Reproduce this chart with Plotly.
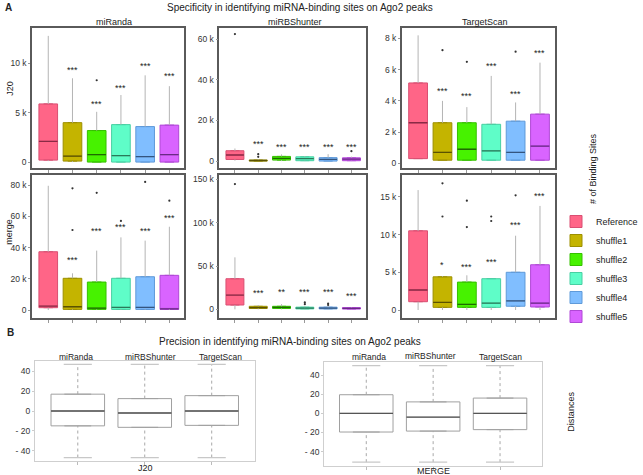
import plotly.graph_objects as go

# ---------------- data ----------------
groups = ["Reference", "shuffle1", "shuffle2", "shuffle3", "shuffle4", "shuffle5"]
tools = ["miRanda", "miRBShunter", "TargetScan"]

# (lower whisker, q1, median, q3, upper whisker) per group, in number of sites
j20_miranda = [[100, 200, 2100, 5900, 12800], [0, 100, 600, 4000, 8500], [0, 0, 750, 3200, 5100],
               [0, 0, 650, 3800, 6800], [0, 0, 550, 3600, 8800], [0, 0, 750, 3750, 7700]]
j20_mirbshunter = [[200, 800, 3000, 5100, 6200], [0, 0, 300, 500, 800], [0, 500, 1300, 2300, 3300],
                   [0, 200, 1200, 2100, 2500], [0, 0, 800, 1700, 3400], [0, 200, 1000, 1600, 2200]]
j20_targetscan = [[300, 300, 2600, 5150, 8200], [200, 200, 700, 2600, 4000], [200, 200, 900, 2600, 3600],
                  [200, 200, 800, 2500, 5600], [200, 200, 700, 2700, 3900], [200, 200, 1100, 3150, 6450]]
merge_miranda = [[0, 1500, 2500, 37300, 79500], [0, 400, 2100, 20300, 23500], [0, 400, 1200, 17900, 38000],
                 [0, 400, 1700, 20300, 46500], [0, 400, 1700, 21300, 44400], [0, 400, 700, 22200, 53300]]
merge_mirbshunter = [[0, 5000, 16500, 35300, 60000], [0, 1000, 2000, 3500, 5000], [0, 1000, 2200, 3500, 6000],
                     [0, 500, 1500, 2500, 3500], [0, 500, 1500, 2500, 3500], [0, 300, 1000, 2000, 2500]]
merge_targetscan = [[0, 1100, 2650, 10500, 15900], [0, 350, 1000, 4400, 4500], [0, 350, 750, 3700, 4600],
                    [0, 350, 900, 4150, 4150], [0, 500, 1200, 5000, 9850], [0, 400, 900, 6000, 13800]]

j20_miranda_out = [[], [], [8300], [], [], []]
j20_mirbshunter_out = [[62500], [2100, 3400], [], [], [], [4900]]
j20_targetscan_out = [[], [7250], [6500], [], [7150], []]
merge_miranda_out = [[], [77900, 51200], [75000], [57000], [82000], [70000]]
merge_mirbshunter_out = [[144500], [], [], [6000, 8000], [5000, 6500], []]
merge_targetscan_out = [[], [16800, 12400], [14500, 11000], [12400, 11800], [15200], []]

j20_miranda_sig = ["", "***", "***", "***", "***", "***"]
j20_mirbshunter_sig = ["", "***", "***", "***", "***", "***"]
j20_targetscan_sig = ["", "***", "***", "***", "***", "***"]
merge_miranda_sig = ["", "***", "***", "***", "***", "***"]
merge_mirbshunter_sig = ["", "***", "**", "***", "***", "***"]
merge_targetscan_sig = ["", "*", "***", "***", "***", "***"]

j20_miranda_sig_y = [0, 9300, 5900, 7500, 9700, 8700]
j20_mirbshunter_sig_y = [0, 8200, 7000, 7000, 7000, 7000]
j20_targetscan_sig_y = [0, 4650, 4300, 6250, 4450, 7050]
merge_miranda_sig_y = [0, 32000, 50600, 53300, 50600, 59000]
merge_mirbshunter_sig_y = [0, 19000, 20000, 20000, 20000, 15300]
merge_targetscan_sig_y = [0, 6000, 5700, 6300, 11300, 15100]

j20_ticks = [[0, 5000, 10000], [0, 20000, 40000, 60000], [0, 2000, 4000, 6000, 8000]]
j20_ticktext = [["0", "5 k", "10 k"], ["0", "20 k", "40 k", "60 k"], ["0", "2 k", "4 k", "6 k", "8 k"]]
merge_ticks = [[0, 20000, 40000, 60000, 80000], [0, 50000, 100000, 150000], [0, 5000, 10000, 15000]]
merge_ticktext = [["0", "20 k", "40 k", "60 k", "80 k"], ["0", "50 k", "100 k", "150 k"], ["0", "5 k", "10 k", "15 k"]]

# Panel B distances: (lower whisker, q1, median, q3, upper whisker)
dist_j20 = [[-47, -15, 0, 17, 47], [-47, -16.5, -2, 12.5, 47], [-47, -14.5, 0, 15.5, 47]]
dist_merge = [[-51, -19.5, 0, 19.5, 50], [-51, -18.5, -4, 12, 50], [-51, -17, 0, 16, 50]]
dist_ticks = [40, 20, 0, -20, -40]
dist_ticktext = ["40", "20", "0", "- 20", "- 40"]

# ---------------- style ----------------
fills = ["#FF6587", "#C4B400", "#47F200", "#5FFDC8", "#80BEFF", "#D964FF"]
edges = ["#D94F72", "#9C8F00", "#36C000", "#48CFA2", "#5F9AD9", "#B048D6"]
medians = ["#8A2A45", "#5A5200", "#1E6A00", "#2A7A5A", "#34557F", "#6A2A85"]
FONT = "Liberation Sans, Arial, sans-serif"
W, H = 643, 475


def px_x(p):
    return p / W


def px_y(p):
    return 1 - p / H


fig = go.Figure()

# Panel A axes domains (pixel based)
col_x = [(33, 190), (226, 377), (414, 572)]
row_y = [(28, 168), (175, 318)]
ranges = [[-600, 13600], [-3400, 65500], [-300, 8670], [-5100, 86400], [-10000, 155000], [-1060, 17900]]

panels = [
    (j20_miranda, j20_miranda_out, j20_miranda_sig, j20_miranda_sig_y),
    (j20_mirbshunter, j20_mirbshunter_out, j20_mirbshunter_sig, j20_mirbshunter_sig_y),
    (j20_targetscan, j20_targetscan_out, j20_targetscan_sig, j20_targetscan_sig_y),
    (merge_miranda, merge_miranda_out, merge_miranda_sig, merge_miranda_sig_y),
    (merge_mirbshunter, merge_mirbshunter_out, merge_mirbshunter_sig, merge_mirbshunter_sig_y),
    (merge_targetscan, merge_targetscan_out, merge_targetscan_sig, merge_targetscan_sig_y),
]
tick_sets = [(j20_ticks[i], j20_ticktext[i]) for i in range(3)] + [(merge_ticks[i], merge_ticktext[i]) for i in range(3)]

annotations = []
layout_axes = {}
for k, (stats, outs, sig, sig_y) in enumerate(panels):
    r, c = divmod(k, 3)
    n = k + 1
    xa = "x" if n == 1 else f"x{n}"
    ya = "y" if n == 1 else f"y{n}"
    # whiskers
    wx, wy = [], []
    for g, s in zip(groups, stats):
        wx += [g, g, None, g, g, None]
        wy += [s[3], s[4], None, s[0], s[1], None]
    fig.add_trace(go.Scatter(x=wx, y=wy, mode="lines", line=dict(color="#b4b4b4", width=1),
                             xaxis=xa, yaxis=ya, showlegend=False, hoverinfo="skip"))
    for i, (g, s) in enumerate(zip(groups, stats)):
        fig.add_trace(go.Box(x=[g], q1=[s[1]], median=[s[2]], q3=[s[3]], lowerfence=[s[1]], upperfence=[s[3]],
                             name=g, legendgroup=g, showlegend=(k == 0), width=0.77,
                             fillcolor=fills[i], line=dict(color=edges[i], width=1),
                             xaxis=xa, yaxis=ya, boxpoints=False))
        # median overlay
        fig.add_trace(go.Box(x=[g], q1=[s[2]], median=[s[2]], q3=[s[2]], lowerfence=[s[2]], upperfence=[s[2]],
                             width=0.77, fillcolor="rgba(0,0,0,0)", line=dict(color=medians[i], width=1.3),
                             xaxis=xa, yaxis=ya, showlegend=False, boxpoints=False, hoverinfo="skip"))
        if outs[i]:
            fig.add_trace(go.Scatter(x=[g] * len(outs[i]), y=outs[i], mode="markers",
                                     marker=dict(color="#333", size=2.2), xaxis=xa, yaxis=ya,
                                     showlegend=False, hoverinfo="skip"))
        if sig[i]:
            annotations.append(dict(x=i, y=sig_y[i], xref=xa, yref=ya, text=sig[i], showarrow=False,
                                    font=dict(size=9, color="#222", family=FONT), yanchor="middle"))
    x0, x1 = col_x[c]
    y0, y1 = row_y[r]
    tv, tt = tick_sets[k]
    key_x = "xaxis" if n == 1 else f"xaxis{n}"
    key_y = "yaxis" if n == 1 else f"yaxis{n}"
    layout_axes[key_x] = dict(domain=[px_x(x0), px_x(x1)], anchor=ya, type="category",
                              categoryorder="array", categoryarray=groups, range=[-0.67, 5.62],
                              showticklabels=False, ticks="outside", ticklen=3, tickcolor="#999",
                              showline=True, linecolor="#5a5a5a", linewidth=1.5, mirror=True,
                              showgrid=False, zeroline=False, fixedrange=True)
    layout_axes[key_y] = dict(domain=[px_y(y1), px_y(y0)], anchor=xa, range=ranges[k],
                              tickvals=tv, ticktext=tt, ticks="outside", ticklen=2, tickcolor="#999",
                              tickfont=dict(size=8.5, color="#333", family=FONT),
                              showline=True, linecolor="#5a5a5a", linewidth=1.5, mirror=True,
                              showgrid=False, zeroline=False, fixedrange=True)

# ---------------- Panel B ----------------
b_specs = [
    (dist_j20, "x7", "y7", (36, 263), (361, 461), [-50.5, 50.5], [-0.64, 2.65]),
    (dist_merge, "x8", "y8", (334, 558), (362, 466), [-55, 53.7], [-0.63, 2.62]),
]
for stats, xa, ya, (x0, x1), (y0, y1), yr, xr in b_specs:
    wx, wy = [], []
    cx, cy = [], []
    for j, s in enumerate(stats):
        wx += [j, j, None, j, j, None]
        wy += [s[3], s[4], None, s[0], s[1], None]
        cx += [j - 0.21, j + 0.21, None, j - 0.21, j + 0.21, None]
        cy += [s[4], s[4], None, s[0], s[0], None]
    fig.add_trace(go.Scatter(x=wx, y=wy, mode="lines", line=dict(color="#a8a8a8", width=1, dash="dot"),
                             xaxis=xa, yaxis=ya, showlegend=False, hoverinfo="skip"))
    fig.add_trace(go.Scatter(x=cx, y=cy, mode="lines", line=dict(color="#c8c8c8", width=1.2),
                             xaxis=xa, yaxis=ya, showlegend=False, hoverinfo="skip"))
    for j, s in enumerate(stats):
        fig.add_trace(go.Box(x=[j], q1=[s[1]], median=[s[2]], q3=[s[3]], lowerfence=[s[1]], upperfence=[s[3]],
                             width=0.8, fillcolor="white", line=dict(color="#a0a0a0", width=1),
                             xaxis=xa, yaxis=ya, showlegend=False, boxpoints=False))
        fig.add_trace(go.Box(x=[j], q1=[s[2]], median=[s[2]], q3=[s[2]], lowerfence=[s[2]], upperfence=[s[2]],
                             width=0.8, fillcolor="rgba(0,0,0,0)", line=dict(color="#555", width=1.3),
                             xaxis=xa, yaxis=ya, showlegend=False, boxpoints=False, hoverinfo="skip"))
    n = int(xa[1:])
    layout_axes[f"xaxis{n}"] = dict(domain=[px_x(x0), px_x(x1)], anchor=ya, range=xr,
                                    tickvals=[0, 1, 2], showticklabels=False, ticks="outside", ticklen=3,
                                    tickcolor="#bbb", showline=True, linecolor="#cfcfcf", linewidth=1,
                                    mirror=True, showgrid=False, zeroline=False, fixedrange=True)
    layout_axes[f"yaxis{n}"] = dict(domain=[px_y(y1), px_y(y0)], anchor=xa, range=yr,
                                    tickvals=dist_ticks, ticktext=dist_ticktext, ticks="outside", ticklen=2,
                                    tickcolor="#ccc", tickfont=dict(size=8.5, color="#333", family=FONT),
                                    showline=True, linecolor="#cfcfcf", linewidth=1, mirror=True,
                                    showgrid=False, zeroline=False, fixedrange=True)


def txt(x, y, text, size=9, angle=0, bold=False, xanchor="center", yanchor="middle", color="#222"):
    annotations.append(dict(x=px_x(x), y=px_y(y), xref="paper", yref="paper", text=f"<b>{text}</b>" if bold else text,
                            showarrow=False, textangle=angle, xanchor=xanchor, yanchor=yanchor,
                            font=dict(size=size, color=color, family=FONT)))


txt(3, 7, "A", size=10, bold=True, xanchor="left")
txt(309, 8, "Specificity in identifying miRNA-binding sites on Ago2 peaks", size=10)
txt(117, 22, "miRanda")
txt(304, 22, "miRBShunter")
txt(500, 22, "TargetScan")
txt(10, 88, "J20", angle=-90)
txt(9, 232, "merge", angle=-90)
txt(611, 168, "# of Binding Sites", angle=-90)

txt(5, 332, "B", size=10, bold=True, xanchor="left")
txt(299, 341, "Precision in identifying miRNA-binding sites on Ago2 peaks", size=10)
txt(78, 357, "miRanda", size=8.5)
txt(155, 357, "miRBShunter", size=8.5)
txt(227, 357, "TargetScan", size=8.5)
txt(380, 357, "miRanda", size=8.5)
txt(444, 356, "miRBShunter", size=8.5)
txt(516, 357, "TargetScan", size=8.5)
txt(150, 468, "J20", size=9)
txt(447, 471, "MERGE", size=9)
txt(588, 412, "Distances", size=9, angle=-90)

fig.update_layout(
    width=W, height=H, autosize=False,
    margin=dict(l=0, r=0, t=0, b=0),
    paper_bgcolor="white", plot_bgcolor="white",
    font=dict(family=FONT, color="#222"),
    annotations=annotations,
    showlegend=True,
    legend=dict(x=px_x(573), y=px_y(207), xanchor="left", yanchor="top",
                font=dict(size=9, family=FONT, color="#222"), tracegroupgap=0,
                itemwidth=30, bgcolor="rgba(0,0,0,0)", borderwidth=0),
    boxmode="overlay",
    **layout_axes,
)

fig.write_html("out.html", config={"displayModeBar": False},
               post_script="document.body.style.margin='0';document.body.style.overflow='hidden';")
